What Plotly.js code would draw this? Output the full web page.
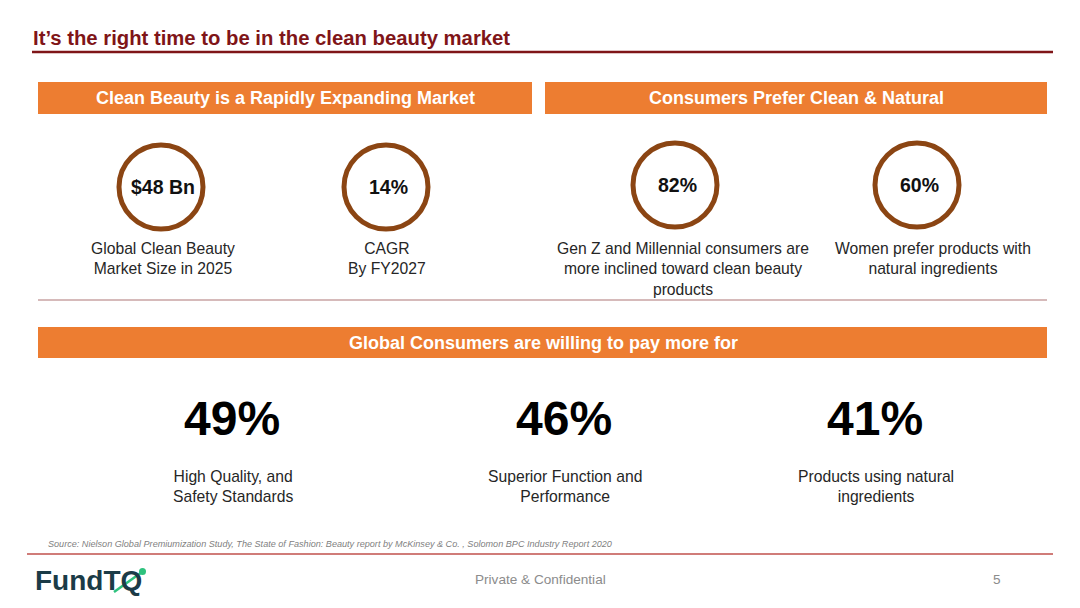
<!DOCTYPE html>
<html>
<head>
<meta charset="utf-8">
<script src="https://cdn.plot.ly/plotly-3.0.1.min.js"></script>
<style>html,body{margin:0;padding:0;background:#fff;}#chart{width:1080px;height:608px;}</style>
</head>
<body>
<div id="chart"></div>
<script>
// ---- Data ----
const slideTitle = "It\u2019s the right time to be in the clean beauty market";
const bannerTitles = ["Clean Beauty is a Rapidly Expanding Market", "Consumers Prefer Clean & Natural", "Global Consumers are willing to pay more for"];
const circleValues = ["$48 Bn", "14%", "82%", "60%"];
const circleLabels = [
  "Global Clean Beauty<br>Market Size in 2025",
  "CAGR<br>By FY2027",
  "Gen Z and Millennial consumers are<br>more inclined toward clean beauty<br>products",
  "Women prefer products with<br>natural ingredients"
];
const payValues = ["49%", "46%", "41%"];
const payLabels = ["High Quality, and<br>Safety Standards", "Superior Function and<br>Performance", "Products using natural<br>ingredients"];
const sourceText = "Source: Nielson Global Premiumization Study, The State of Fashion: Beauty report by McKinsey & Co. , Solomon BPC Industry Report 2020";
const footerText = "Private & Confidential";
const pageNumber = "5";

// ---- Layout geometry ----
const FONT = "Liberation Sans, Arial, sans-serif";
const ORANGE = "#ED7D31";
const BROWN = "#8B4513";
const DARKRED = "#7F1518";

const circleCx = [161, 386, 675, 917];
const circleCy = [187, 187, 185, 185];
const circleR = 42;
const labelCx = [163, 387, 683, 933];
const labelTop = 238;
const payCx = [232, 564, 875];
const payLabelCx = [233, 565, 876];

const shapes = [];
const ann = [];

// title + underline
ann.push({x: 31, y: 38, xanchor: 'left', yanchor: 'middle', text: '<b>' + slideTitle + '</b>', showarrow: false,
  font: {family: FONT, size: 20.3, color: DARKRED}});
shapes.push({type: 'line', x0: 32, x1: 1053, y0: 52, y1: 52, line: {color: DARKRED, width: 2.5}});

// banners
const banners = [[38, 532, 82, 114], [545, 1047, 82, 114], [38, 1047, 327, 358]];
const bannerCx = [285, 796, 543];
banners.forEach((b, i) => {
  shapes.push({type: 'rect', x0: b[0], x1: b[1], y0: b[2], y1: b[3], fillcolor: ORANGE, line: {width: 0}});
  ann.push({x: bannerCx[i], y: (b[2] + b[3]) / 2, xanchor: 'center', yanchor: 'middle',
    text: '<b>' + bannerTitles[i] + '</b>', showarrow: false, font: {family: FONT, size: 18, color: '#ffffff'}});
});

// circles
circleValues.forEach((v, i) => {
  shapes.push({type: 'circle', x0: circleCx[i] - circleR, x1: circleCx[i] + circleR, y0: circleCy[i] - circleR, y1: circleCy[i] + circleR,
    line: {color: BROWN, width: 5}, fillcolor: 'rgba(0,0,0,0)'});
  ann.push({x: circleCx[i] + 2, y: circleCy[i], xanchor: 'center', yanchor: 'middle', text: '<b>' + v + '</b>', showarrow: false,
    font: {family: FONT, size: 19.5, color: '#111111'}});
  ann.push({x: labelCx[i], y: labelTop, xanchor: 'center', yanchor: 'top', text: circleLabels[i], showarrow: false, align: 'center',
    font: {family: FONT, size: 15.7, color: '#262626'}});
});

// divider
shapes.push({type: 'line', x0: 38, x1: 1047, y0: 300, y1: 300, line: {color: '#C9A3A3', width: 1.5}});

// pay more
payValues.forEach((v, i) => {
  ann.push({x: payCx[i], y: 418, xanchor: 'center', yanchor: 'middle', text: '<b>' + v + '</b>', showarrow: false,
    font: {family: FONT, size: 48, color: '#000000'}});
  ann.push({x: payLabelCx[i], y: 466, xanchor: 'center', yanchor: 'top', text: payLabels[i], showarrow: false, align: 'center',
    font: {family: FONT, size: 15.7, color: '#262626'}});
});

// source
ann.push({x: 46, y: 544, xanchor: 'left', yanchor: 'middle', text: '<i>' + sourceText + '</i>', showarrow: false,
  font: {family: FONT, size: 9.1, color: '#7F7F7F'}});
shapes.push({type: 'line', x0: 27, x1: 1053, y0: 554, y1: 554, line: {color: '#C0504D', width: 1.5}});

// logo
ann.push({x: 33, y: 580, xanchor: 'left', yanchor: 'middle', text: '<b>FundTQ</b>', showarrow: false,
  font: {family: FONT, size: 28, color: '#1B3B47'}});
shapes.push({type: 'line', x0: 114, x1: 142, y0: 592, y1: 572, line: {color: '#2EC27E', width: 2.5}});
shapes.push({type: 'circle', x0: 139, x1: 146, y0: 568, y1: 575, fillcolor: '#2EC27E', line: {width: 0}});

// footer
ann.push({x: 540, y: 579, xanchor: 'center', yanchor: 'middle', text: footerText, showarrow: false,
  font: {family: FONT, size: 13.6, color: '#8C8C8C'}});
ann.push({x: 997, y: 579, xanchor: 'center', yanchor: 'middle', text: pageNumber, showarrow: false,
  font: {family: FONT, size: 13.6, color: '#8C8C8C'}});

const layout = {
  width: 1080, height: 608,
  margin: {l: 0, r: 0, t: 0, b: 0},
  paper_bgcolor: '#ffffff', plot_bgcolor: '#ffffff',
  xaxis: {range: [0, 1080], visible: false, fixedrange: true},
  yaxis: {range: [608, 0], visible: false, fixedrange: true},
  shapes: shapes, annotations: ann, showlegend: false
};
Plotly.newPlot('chart', [{x: [], y: [], type: 'scatter'}], layout, {displayModeBar: false, staticPlot: true});
</script>
</body>
</html>
